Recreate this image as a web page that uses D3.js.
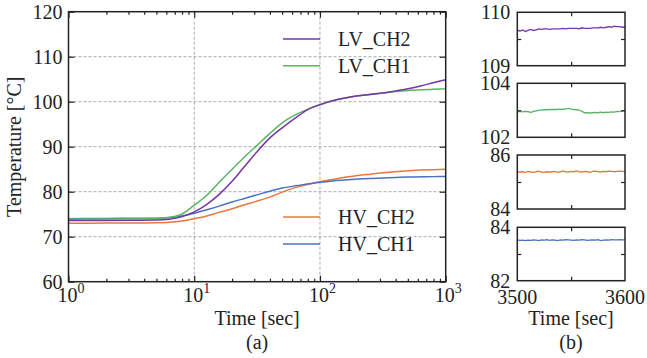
<!DOCTYPE html>
<html><head><meta charset="utf-8">
<script src="https://cdn.jsdelivr.net/npm/d3@7/dist/d3.min.js"></script>
</head><body style="margin:0">
<svg id="c" width="647" height="358"></svg>
<script>
// ---------- data ----------
const times = [1,2,3.16,5.01,6.31,7.94,10,12.6,15.8,20,25.1,31.6,39.8,50.1,63.1,79.4,100,126,158,200,251,316,398,501,631,794,1000];
const lvCh2 = [73.6,73.62,73.65,73.7,73.9,74.4,75.5,77.2,79.4,82.3,85.6,88.9,91.9,94.2,96.3,98.2,99.35,100.2,100.8,101.3,101.6,101.95,102.4,102.9,103.5,104.2,104.9];
const lvCh1 = [73.9,73.95,74.0,74.05,74.3,75.0,77.0,79.2,82.1,85.0,87.7,90.3,92.9,95.3,97.0,98.3,99.3,100.2,100.8,101.3,101.65,101.95,102.25,102.5,102.65,102.75,102.85];
const hvCh2 = [73.0,73.02,73.05,73.1,73.2,73.5,74.0,74.6,75.4,76.2,77.1,77.9,78.8,79.9,80.9,81.6,82.2,82.7,83.2,83.6,83.9,84.2,84.45,84.65,84.8,84.9,85.0];
const hvCh1 = [74.0,74.05,74.1,74.1,74.2,74.6,75.2,76.0,76.8,77.7,78.5,79.3,80.1,80.8,81.3,81.7,82.1,82.4,82.6,82.8,82.95,83.05,83.15,83.25,83.3,83.35,83.4];
const seriesNames = ["LV_CH2","LV_CH1","HV_CH2","HV_CH1"];
const colors = ["#7535a8","#5ab464","#e8773f","#4a72c0"];
const yTicksMain = [60,70,80,90,100,110,120];
const xDecades = [1,10,100,1000];

const zoomTimes = [3500,3502.5,3505,3507.5,3510,3512.5,3515,3517.5,3520,3522.5,3525,3527.5,3530,3532.5,3535,3537.5,3540,3542.5,3545,3547.5,3550,3552.5,3555,3557.5,3560,3562.5,3565,3567.5,3570,3572.5,3575,3577.5,3580,3582.5,3585,3587.5,3590,3592.5,3595,3597.5,3600];
const zLvCh2 = [109.66,109.65,109.67,109.64,109.66,109.68,109.66,109.67,109.69,109.68,109.69,109.69,109.68,109.69,109.69,109.69,109.69,109.70,109.69,109.70,109.70,109.70,109.70,109.69,109.71,109.70,109.70,109.70,109.71,109.71,109.71,109.72,109.71,109.72,109.73,109.72,109.74,109.73,109.73,109.72,109.72];
const zLvCh1 = [102.95,102.96,102.94,102.96,102.95,102.92,102.96,102.98,103.00,103.01,103.02,103.02,103.03,103.03,103.03,103.03,103.04,103.03,103.05,103.07,103.04,103.03,103.02,103.01,102.96,102.91,102.91,102.90,102.91,102.92,102.91,102.93,102.91,102.93,102.92,102.94,102.93,102.96,102.95,102.97,102.98];
const zHvCh2 = [85.38,85.37,85.38,85.36,85.39,85.37,85.36,85.38,85.40,85.37,85.36,85.38,85.37,85.38,85.39,85.36,85.38,85.40,85.38,85.37,85.39,85.38,85.41,85.38,85.37,85.39,85.38,85.36,85.39,85.40,85.38,85.37,85.39,85.38,85.40,85.39,85.38,85.39,85.40,85.39,85.38];
const zHvCh1 = [83.53,83.51,83.52,83.50,83.52,83.51,83.53,83.52,83.50,83.53,83.52,83.54,83.51,83.53,83.52,83.50,83.53,83.52,83.54,83.53,83.52,83.51,83.53,83.52,83.54,83.53,83.51,83.52,83.53,83.52,83.54,83.50,83.52,83.53,83.52,83.54,83.53,83.53,83.54,83.53,83.53];
const zoomRanges = [[109,110],[102,104],[84,86],[82,84]];

// ---------- layout ----------
const svg = d3.select("#c");
const M = {l:68.5, r:445.7, t:11.7, b:281.7};
const x = d3.scaleLog().domain([1,1000]).range([M.l, M.r]);
const y = d3.scaleLinear().domain([60,120]).range([M.b, M.t]);
const FS = 20;
const FONT = '"Liberation Serif"';
function txt(parent, s, xx, yy, anchor) {
  const t = parent.append("text").style("font-family", FONT).attr("font-size", FS)
    .attr("fill", "#222").attr("x", xx).attr("y", yy).attr("text-anchor", anchor || "start");
  if (s !== null) t.text(s);
  return t;
}

const g = svg.append("g");
// grid
g.selectAll(".gy").data(yTicksMain.filter(d=>d>60&&d<120)).enter().append("line")
  .attr("x1",M.l).attr("x2",M.r).attr("y1",d=>y(d)).attr("y2",d=>y(d))
  .attr("stroke","#aaa").attr("stroke-width",1).attr("stroke-dasharray","3,2");
g.selectAll(".gx").data([10,100]).enter().append("line")
  .attr("y1",M.t).attr("y2",M.b).attr("x1",d=>x(d)).attr("x2",d=>x(d))
  .attr("stroke","#aaa").attr("stroke-width",1).attr("stroke-dasharray","3,2");

// curves
const mainSeries = [lvCh2, lvCh1, hvCh2, hvCh1];
const line = d3.line().x((d,i)=>x(times[i])).y(d=>y(d)).curve(d3.curveMonotoneX);
[2,3,1,0].forEach(k=>{
  g.append("path").datum(mainSeries[k]).attr("d",line).attr("fill","none")
   .attr("stroke",colors[k]).attr("stroke-width",1.5);
});

// axes with inward ticks
const minor = [];
xDecades.slice(0,-1).forEach(d=>{for(let m=2;m<10;m++) minor.push(d*m);});
const axB = d3.axisBottom(x).tickValues(xDecades).tickSize(-6).tickFormat("");
const axT = d3.axisTop(x).tickValues(xDecades).tickSize(-6).tickFormat("");
const axBm = d3.axisBottom(x).tickValues(minor).tickSize(-3).tickFormat("");
const axTm = d3.axisTop(x).tickValues(minor).tickSize(-3).tickFormat("");
const axL = d3.axisLeft(y).tickValues(yTicksMain).tickSize(-6).tickFormat("");
const axR = d3.axisRight(y).tickValues(yTicksMain).tickSize(-6).tickFormat("");
[[axB,`translate(0,${M.b})`],[axBm,`translate(0,${M.b})`],[axT,`translate(0,${M.t})`],[axTm,`translate(0,${M.t})`],
 [axL,`translate(${M.l},0)`],[axR,`translate(${M.r},0)`]].forEach(([a,t])=>{
  const ag = g.append("g").attr("transform",t).call(a);
  ag.select(".domain").remove();
  ag.selectAll("text").remove();
  ag.selectAll("line").attr("stroke","#222").attr("stroke-width",1.2);
});
g.append("rect").attr("x",M.l).attr("y",M.t).attr("width",M.r-M.l).attr("height",M.b-M.t)
  .attr("fill","none").attr("stroke","#222").attr("stroke-width",1.5);

// tick labels
yTicksMain.forEach(d=>{ txt(g, d, M.l-6, y(d), "end").attr("dy","0.35em"); });
xDecades.forEach(d=>{
  const t = txt(g, null, x(d)-11, 302);
  t.append("tspan").text("10");
  t.append("tspan").attr("dy",-9).attr("font-size",14).text(Math.round(Math.log10(d)));
});
txt(g, "Time [sec]", (M.l+M.r)/2, 325, "middle");
txt(g, "(a)", (M.l+M.r)/2, 349, "middle");
txt(g, "Temperature [°C]", 0, 0, "middle").attr("transform",`translate(21,${(M.t+M.b)/2}) rotate(-90)`);

// legend
const legY = [39,65.7,217,244];
seriesNames.forEach((n,i)=>{
  g.append("line").attr("x1",283).attr("x2",320).attr("y1",legY[i]).attr("y2",legY[i])
   .attr("stroke",colors[i]).attr("stroke-width",1.5);
  txt(g, n, 338, legY[i]).attr("dy","0.35em");
});

// ---------- zoom panels ----------
const PX = [517.3, 625];
const PY = [[12.3,65.7],[83.3,137.3],[155,209],[227.3,280.7]];
const zx = d3.scaleLinear().domain([3500,3600]).range(PX);
const zSeries = [zLvCh2, zLvCh1, zHvCh2, zHvCh1];
zSeries.forEach((s,i)=>{
  const zy = d3.scaleLinear().domain(zoomRanges[i]).range([PY[i][1],PY[i][0]]);
  const pg = svg.append("g");
  const zl = d3.line().x((d,j)=>zx(zoomTimes[j])).y(d=>zy(d));
  pg.append("path").datum(s).attr("d",zl).attr("fill","none").attr("stroke",colors[i]).attr("stroke-width",1.3);
  const mid = [(zoomRanges[i][0]+zoomRanges[i][1])/2];
  [[d3.axisBottom(zx).tickValues([3550]),`translate(0,${PY[i][1]})`],
   [d3.axisTop(zx).tickValues([3550]),`translate(0,${PY[i][0]})`],
   [d3.axisLeft(zy).tickValues(mid),`translate(${PX[0]},0)`],
   [d3.axisRight(zy).tickValues(mid),`translate(${PX[1]},0)`]].forEach(([a,t])=>{
     const ag = pg.append("g").attr("transform",t).call(a.tickSize(-4).tickFormat(""));
     ag.select(".domain").remove();
     ag.selectAll("text").remove();
     ag.selectAll("line").attr("stroke","#222").attr("stroke-width",1.2);
  });
  pg.append("rect").attr("x",PX[0]).attr("y",PY[i][0]).attr("width",PX[1]-PX[0]).attr("height",PY[i][1]-PY[i][0])
    .attr("fill","none").attr("stroke","#222").attr("stroke-width",1.5);
  zoomRanges[i].forEach(v=>{ txt(pg, v, PX[0]-7, zy(v), "end").attr("dy","0.35em"); });
});
[3500,3600].forEach(v=>{ txt(svg, v, zx(v), 304, "middle"); });
txt(svg, "Time [sec]", 571, 325, "middle");
txt(svg, "(b)", 571, 349, "middle");
</script>
</body></html>
